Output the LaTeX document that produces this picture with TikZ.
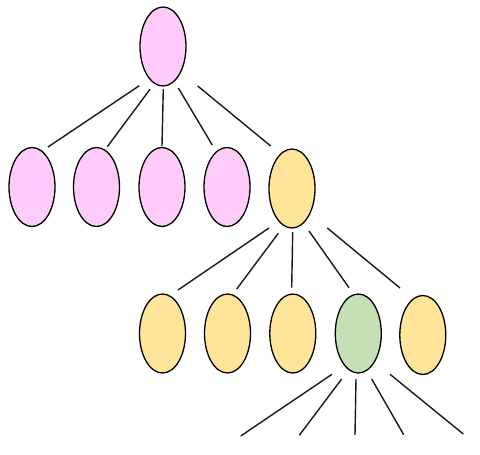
\documentclass[tikz,border=0pt]{standalone}
\usetikzlibrary{shapes.geometric}
\definecolor{pinkfill}{RGB}{255,204,250}
\definecolor{yellowfill}{RGB}{255,229,153}
\definecolor{greenfill}{RGB}{197,224,180}
\tikzset{
  oval/.style={ellipse, draw=black, line width=1.3pt, minimum width=46pt, minimum height=79pt, inner sep=0pt},
  pinkoval/.style={oval, fill=pinkfill},
  yellowoval/.style={oval, fill=yellowfill},
  greenoval/.style={oval, fill=greenfill},
  edge/.style={draw=black!90, line width=1.4pt}
}
\begin{document}
\begin{tikzpicture}[x=1pt,y=-1pt]
\useasboundingbox (0,0) rectangle (480,455);
% level 0
\node[pinkoval] (root) at (163,46.5) {};
% level 1
\node[pinkoval] (a1) at (32,187) {};
\node[pinkoval] (a2) at (96.5,187) {};
\node[pinkoval] (a3) at (162,187) {};
\node[pinkoval] (a4) at (227,187) {};
\node[yellowoval] (a5) at (292,188.5) {};
% level 2
\node[yellowoval] (b1) at (162.5,333.5) {};
\node[yellowoval] (b2) at (227.5,333.5) {};
\node[yellowoval] (b3) at (292.8,333.5) {};
\node[greenoval] (b4) at (358.3,333.5) {};
\node[yellowoval] (b5) at (422.8,335) {};
% connector ends
\coordinate (r1) at (139.3,85.7); \coordinate (e1) at (48,147);
\coordinate (r2) at (150,89.3);   \coordinate (e2) at (107.3,146.7);
\coordinate (r3) at (163.3,89);   \coordinate (e3) at (162,146);
\coordinate (r4) at (178.3,88);   \coordinate (e4) at (212.3,145);
\coordinate (r5) at (197.7,86);   \coordinate (e5) at (270.7,146);
\coordinate (s1) at (269,228);    \coordinate (f1) at (178,290);
\coordinate (s2) at (278.3,233.3);\coordinate (f2) at (236.7,289);
\coordinate (s3) at (292.7,232);  \coordinate (f3) at (291.7,287.7);
\coordinate (s4) at (309,231);    \coordinate (f4) at (349,287.7);
\coordinate (s5) at (327.3,228);  \coordinate (f5) at (400,288);
\coordinate (g1) at (332,374.3);  \coordinate (h1) at (240.7,436);
\coordinate (g2) at (341.7,379);  \coordinate (h2) at (299.3,435.3);
\coordinate (g3) at (356,379);    \coordinate (h3) at (355,435);
\coordinate (g4) at (371.7,379);  \coordinate (h4) at (403.7,434.7);
\coordinate (g5) at (390,374.3);  \coordinate (h5) at (463.3,434);
\foreach \i in {1,...,5} {
  \draw[edge] (r\i) -- (e\i);
  \draw[edge] (s\i) -- (f\i);
  \draw[edge] (g\i) -- (h\i);
}
\end{tikzpicture}
\end{document}
